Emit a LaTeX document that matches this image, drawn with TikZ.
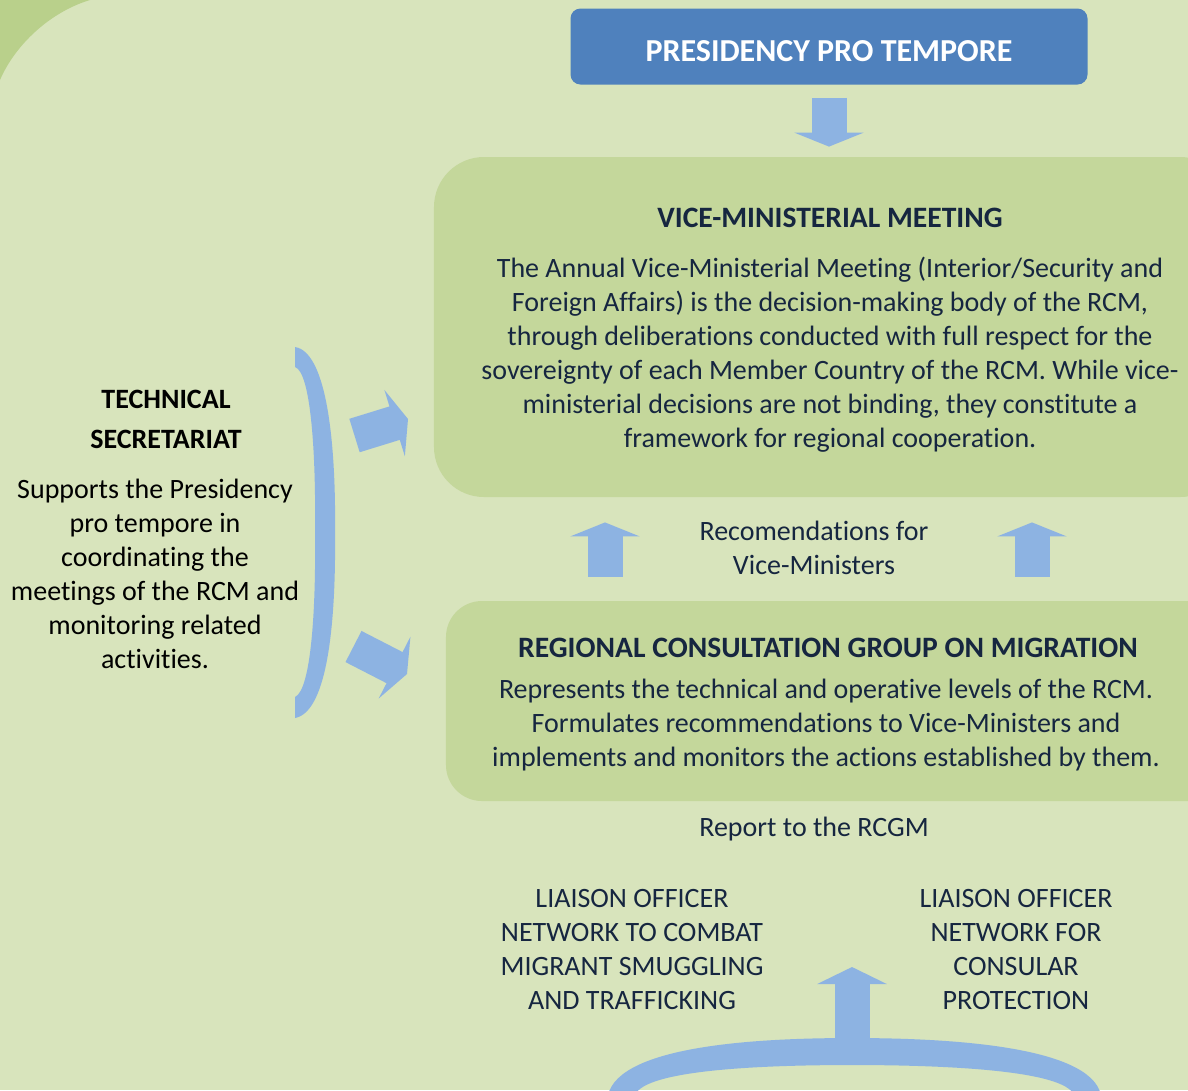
\documentclass[tikz,border=0pt]{standalone}
\usepackage{fontspec}
\setmainfont[Ligatures=NoCommon, RawFeature={-liga;-clig;-calt}]{Carlito}
\usetikzlibrary{arrows.meta, positioning, calc}
\definecolor{rcmbg}{RGB}{216,228,188}
\definecolor{rcmcorner}{RGB}{185,208,139}
\definecolor{rcmgreen}{RGB}{196,215,155}
\definecolor{rcmblue}{RGB}{79,129,189}
\definecolor{rcmarrow}{RGB}{141,179,226}
\definecolor{rcmtext}{RGB}{22,38,64}

\begin{document}
\begin{tikzpicture}[
    x=0.5bp, y=-0.5bp,
    every node/.style={font=\fontsize{14bp}{17bp}\selectfont, text=rcmtext,
        align=center, inner sep=0pt},
    pptbox/.style={rectangle, fill=rcmblue, rounded corners=5bp,
        minimum width=258.5bp, minimum height=38bp, text=white,
        text height=15.2bp, text depth=0pt,
        font=\fontsize{16bp}{19bp}\selectfont\bfseries},
    stagebox/.style={rectangle, fill=rcmgreen},
    titletext/.style={font=\fontsize{14.8bp}{17bp}\selectfont\bfseries},
    sidetext/.style={text=black},
    fatarrow/.style={draw=rcmarrow, line width=17.5bp,
        -{Triangle[length=7bp, width=34.5bp]}},
]

% === PAGE ===
\useasboundingbox (0,0) rectangle (1188,1090);
\clip (0,0) rectangle (1188,1090);
\fill[rcmbg] (0,0) rectangle (1188,1090);
\fill[rcmcorner] (0,0) -- (90,0) .. controls (50,12) and (15,45) .. (0,80) -- cycle;

% === BOXES ===
\node[pptbox] (ppt) at (829,46.5) {PRESIDENCY PRO TEMPORE};
\node[stagebox, minimum width=398bp, minimum height=170bp, rounded corners=25bp] (vmm) at (832,327) {};
\node[stagebox, minimum width=392bp, minimum height=100bp, rounded corners=18bp] (rcgm) at (838,701) {};

% Vice-ministerial meeting
\node[titletext] (vmmtitle) at (830,218) {VICE-MINISTERIAL MEETING};
\node (vmmbody) at (830,355) {The Annual Vice-Ministerial Meeting (Interior/Security and\\
    Foreign Affairs) is the decision-making body of the RCM,\\
    through deliberations conducted with full respect for the\\
    sovereignty of each Member Country of the RCM. While vice-\\
    ministerial decisions are not binding, they constitute a\\
    framework for regional cooperation.};

% Regional consultation group
\node[titletext] (rcgmtitle) at (828,648) {REGIONAL CONSULTATION GROUP ON MIGRATION};
\node (rcgmbody) at (826,725) {Represents the technical and operative levels of the RCM.\\
    Formulates recommendations to Vice-Ministers and\\
    implements and monitors the actions established by them.};

% Between and below the boxes
\node (recs) at (814,548) {Recomendations for\\Vice-Ministers};
\node (report) at (814,829) {Report to the RCGM};
\node (smuggling) at (632,949) {LIAISON OFFICER\\NETWORK TO COMBAT\\MIGRANT SMUGGLING\\AND TRAFFICKING};
\node (consular) at (1016,949) {LIAISON OFFICER\\NETWORK FOR\\CONSULAR\\PROTECTION};

% Technical secretariat
\node[sidetext, font=\fontsize{14bp}{20bp}\selectfont\bfseries] (tstitle) at (166,419) {TECHNICAL\\SECRETARIAT};
\node[sidetext] (tsbody) at (155,574) {Supports the Presidency\\pro tempore in\\coordinating the\\meetings of the RCM and\\monitoring related\\activities.};

% === ARROWS ===
\draw[fatarrow, shorten <=6.5bp, shorten >=5bp] (ppt.south) -- (ppt.south |- vmm.north);
\draw[fatarrow, shorten <=12bp, shorten >=12.5bp] (605,0 |- rcgm.north) -- (605,0 |- vmm.south);
\draw[fatarrow, shorten <=12bp, shorten >=12.5bp] (1032,0 |- rcgm.north) -- (1032,0 |- vmm.south);

% Bracket and side arrows
\fill[rcmarrow] (295,347) .. controls (328,352) and (336,450) .. (335,532)
    .. controls (336,620) and (328,712) .. (295,718) -- (295,697)
    .. controls (311,690) and (316,610) .. (315,532)
    .. controls (316,455) and (311,372) .. (295,367) -- cycle;
\coordinate (brkup) at (354.5,435.5);
\coordinate (brklow) at (353.5,646.5);
\draw[fatarrow] (brkup) -- ++(53.5,-16.5);
\draw[fatarrow] (brklow) -- ++(53.5,27.5);

% Liaison arch
\fill[rcmarrow] (608,1095) .. controls (620,1045) and (760,1038) .. (852,1038)
    .. controls (944,1038) and (1090,1045) .. (1101,1095) -- (1074,1095)
    .. controls (1064,1070) and (944,1065) .. (852,1065)
    .. controls (760,1065) and (645,1070) .. (635,1095) -- cycle;
\coordinate (archtop) at (852,1040);
\draw[fatarrow, -{Triangle[length=8.5bp, width=34.5bp]}] (archtop) -- ++(0,-73);

\end{tikzpicture}
\end{document}
